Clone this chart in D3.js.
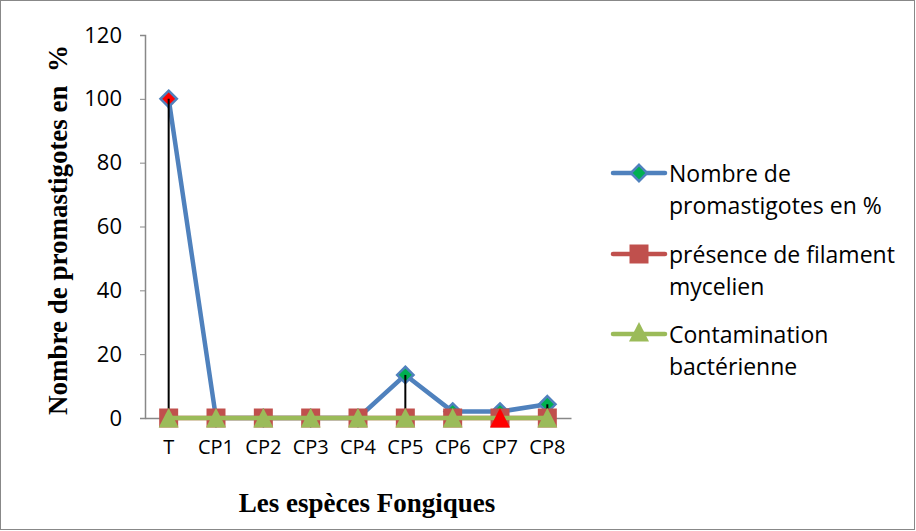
<!DOCTYPE html>
<meta charset="utf-8">
<html>
<head>
    <script src="https://d3js.org/d3.v7.min.js"></script>
    <style>
        body { margin: 0; background: #fff; }
        svg text { font-family: "Open Sans", "Noto Sans", sans-serif; }
        .title { font-family: "Liberation Serif", serif !important; font-weight: bold; font-size: 27px; white-space: pre; }
    </style>
</head>
<body>
    <svg width="916" height="531"></svg>
    <script>
        var categories = ["T", "CP1", "CP2", "CP3", "CP4", "CP5", "CP6", "CP7", "CP8"];
        var promastigotes = [100, 0, 0, 0, 0, 13.5, 2, 2, 4.3];
        var filament = [0, 0, 0, 0, 0, 0, 0, 0, 0];
        var contamination = [0, 0, 0, 0, 0, 0, 0, 0, 0];
        var yTicks = [0, 20, 40, 60, 80, 100, 120];
        var dropLines = ["T", "CP5", "CP6", "CP7", "CP8"];

        var series = [
            { name: ["Nombre de", "promastigotes en %"], values: promastigotes, color: "#4F81BD", marker: "diamond", fill: "#00B050", red: ["T"] },
            { name: ["présence de filament", "mycelien"], values: filament, color: "#C0504D", marker: "square", fill: "#C0504D", red: [] },
            { name: ["Contamination", "bactérienne"], values: contamination, color: "#9BBB59", marker: "triangle", fill: "#9BBB59", red: ["CP7"] }
        ];

        var svg = d3.select("svg");

        svg.append("rect")
            .attr("x", 0.5).attr("y", 0.5)
            .attr("width", 914).attr("height", 529)
            .attr("fill", "#fff").attr("stroke", "#888");

        var x = d3.scaleBand().domain(categories).range([145, 571]);
        var y = d3.scaleLinear().domain([0, 120]).range([418, 35]);

        var yAxis = svg.append("g")
            .attr("transform", "translate(145,0)")
            .call(d3.axisLeft(y).tickValues(yTicks).tickSize(5).tickPadding(18));
        yAxis.select(".domain").attr("stroke", "#888").attr("stroke-width", 1.5);
        yAxis.selectAll(".tick line").attr("stroke", "#888");
        yAxis.selectAll("text").attr("font-size", 22).attr("fill", "#000");

        var xAxis = svg.append("g")
            .attr("transform", "translate(0,418)")
            .call(d3.axisBottom(x).tickSize(0).tickPadding(22));
        xAxis.select(".domain").attr("stroke", "#888").attr("stroke-width", 1.5);
        xAxis.selectAll("text").attr("font-size", 20).attr("fill", "#000");

        function cx(c) { return x(c) + x.bandwidth() / 2; }

        // custom triangle: apex up, base sitting on the bottom of the square marker
        var symbols = {
            diamond: d3.symbol().type(d3.symbolDiamond2).size(170)(),
            square: "M-9.5,-9.5H9.5V9.5H-9.5Z",
            triangle: "M0,-10L10,9.5L-10,9.5Z"
        };

        var line = d3.line()
            .x(function (d, i) { return cx(categories[i]); })
            .y(function (d) { return y(d); });

        series.forEach(function (s, si) {
            svg.append("path")
                .datum(s.values)
                .attr("d", line)
                .attr("fill", "none")
                .attr("stroke", s.color)
                .attr("stroke-width", 4.5)
                .attr("stroke-linejoin", "round");

            svg.selectAll(".m" + si)
                .data(s.values)
                .enter().append("path")
                .attr("transform", function (d, i) {
                    return "translate(" + cx(categories[i]) + "," + y(d) + ")";
                })
                .attr("d", symbols[s.marker])
                .attr("fill", function (d, i) { return s.red.indexOf(categories[i]) >= 0 ? "#FF0000" : s.fill; })
                .attr("stroke", s.marker === "diamond" ? s.color : "none")
                .attr("stroke-width", 2.5);

            if (si === 0) {
                svg.selectAll(".drop")
                    .data(dropLines)
                    .enter().append("line")
                    .attr("x1", function (c) { return cx(c); })
                    .attr("x2", function (c) { return cx(c); })
                    .attr("y1", function (c) { return y(promastigotes[categories.indexOf(c)]); })
                    .attr("y2", y(0))
                    .attr("stroke", "#000")
                    .attr("stroke-width", 2);
            }
        });

        // legend
        var legend = svg.append("g");
        var legendY = [173, 254, 334];
        series.forEach(function (s, i) {
            var g = legend.append("g").attr("transform", "translate(0," + legendY[i] + ")");
            g.append("line")
                .attr("x1", 613).attr("x2", 665)
                .attr("stroke", s.color).attr("stroke-width", 4.5)
                .attr("stroke-linecap", "round");
            g.append("path")
                .attr("transform", "translate(639," + (s.marker === "triangle" ? -2 : 0) + ")")
                .attr("d", symbols[s.marker])
                .attr("fill", s.fill)
                .attr("stroke", s.marker === "diamond" ? s.color : "none")
                .attr("stroke-width", 2.5);
            g.selectAll("text")
                .data(s.name)
                .enter().append("text")
                .attr("x", 669)
                .attr("y", function (d, j) { return 9 + j * 32; })
                .attr("font-size", 23)
                .text(function (d) { return d; });
        });

        svg.append("text")
            .attr("class", "title")
            .attr("x", 367).attr("y", 512)
            .attr("text-anchor", "middle")
            .text("Les espèces Fongiques");

        svg.append("text")
            .attr("class", "title")
            .attr("transform", "translate(67,230) rotate(-90)")
            .attr("text-anchor", "middle")
            .text("Nombre de promastigotes en  %");
    </script>
</body>
</html>
